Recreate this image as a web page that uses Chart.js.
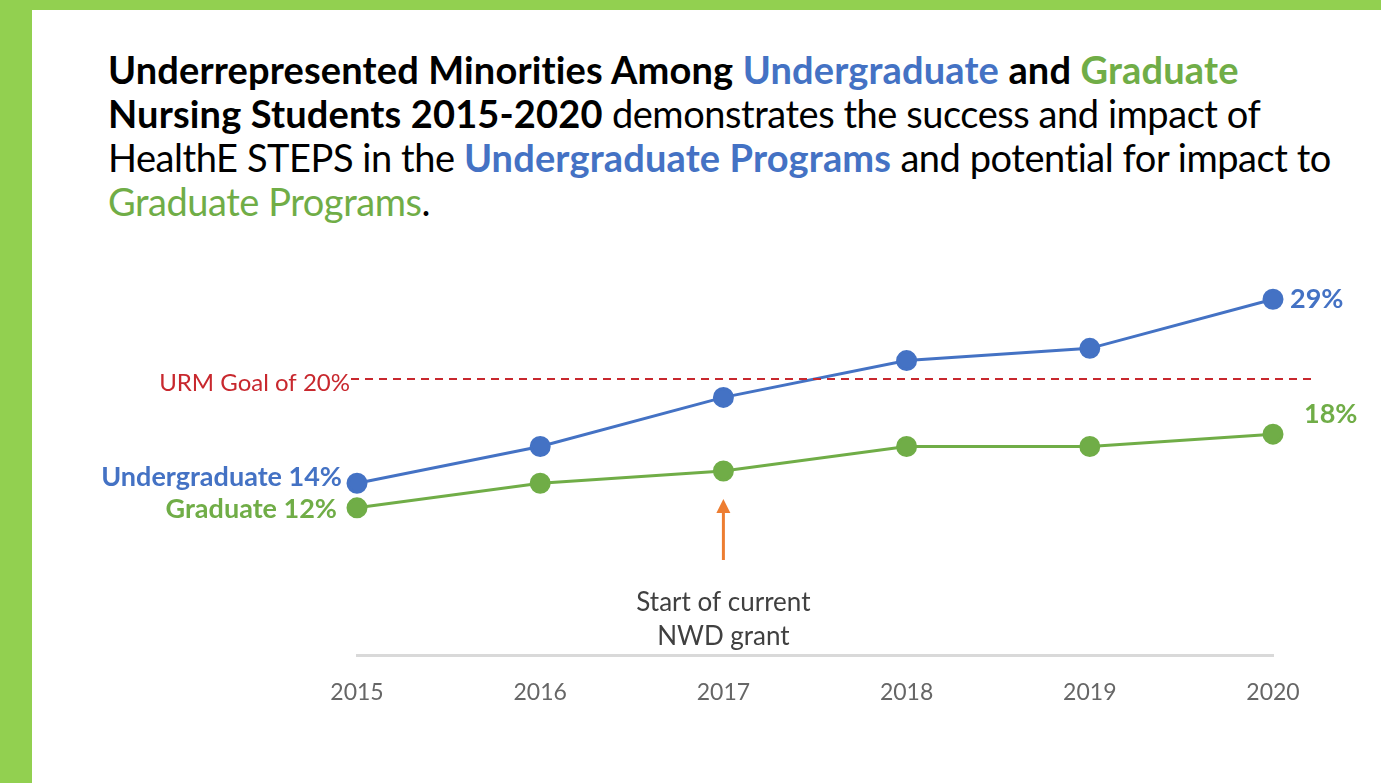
<!DOCTYPE html>
<html>
<head>
<meta charset="utf-8">
<title>URM nursing students 2015-2020</title>
<script src="https://cdn.jsdelivr.net/npm/chart.js@4.4.1/dist/chart.umd.min.js"></script>
<style>
  html, body { margin: 0; padding: 0; }
  body {
    width: 1381px; height: 783px; position: relative; overflow: hidden;
    background: #92D050; font-family: Lato, 'Noto Sans', sans-serif;
  }
  .panel { position: absolute; left: 32px; top: 10px; right: 0; bottom: 0; background: #fff; }
  .title {
    position: absolute; left: 108px; top: 47px; white-space: nowrap;
    font-size: 38px; line-height: 44px; color: #000; letter-spacing: -0.45px;
  }
  .title b { font-weight: 700; letter-spacing: 0.15px; }
  .blue { color: #4472C4; }
  .green { color: #70AD47; }
  #chart { position: absolute; left: 0; top: 0; }
</style>
</head>
<body>
<div class="panel"></div>
<div class="title">
  <b>Underrepresented Minorities Among <span class="blue">Undergraduate</span> and <span class="green">Graduate</span></b><br>
  <b>Nursing Students 2015-2020</b> demonstrates the success and impact of<br>
  HealthE STEPS in the <b class="blue">Undergraduate Programs</b> and potential for impact to<br>
  <span class="green">Graduate Programs</span>.
</div>
<canvas id="chart" width="1381" height="783"></canvas>
<script>
// values (percent of students)
const years = ['2015', '2016', '2017', '2018', '2019', '2020']
const undergraduate = [14, 17, 21, 24, 25, 29]
const graduate = [12, 14, 15, 17, 17, 18]

// the dashed goal line sits a bit above 20 in the drawing; keep its drawn level
const goalLabel = 'URM Goal of 20%'
const goalLevel = 22.5

const grantYear = '2017'
const grantNote = ['Start of current', 'NWD grant']

const BLUE = '#4472C4'
const GREEN = '#70AD47'
const RED = '#C8282E'
const ORANGE = '#ED7D31'
const FONT = "Lato, 'Noto Sans', sans-serif"

// end labels: which point, text, and offset from the point
const endLabels = [
  { ds: 0, i: 0, text: 'Undergraduate ' + undergraduate[0] + '%', align: 'right', dx: -15, dy: -6 },
  { ds: 1, i: 0, text: 'Graduate ' + graduate[0] + '%', align: 'right', dx: -20, dy: 1 },
  { ds: 0, i: years.length - 1, text: undergraduate[years.length - 1] + '%', align: 'left', dx: 17, dy: 0 },
  { ds: 1, i: years.length - 1, text: graduate[years.length - 1] + '%', align: 'left', dx: 31, dy: -20 }
]

const annotations = {
  id: 'annotations',
  afterDatasetsDraw(chart) {
    const ctx = chart.ctx
    const x = chart.scales.x
    const y = chart.scales.y

    // goal line + label
    const gy = y.getPixelForValue(goalLevel)
    const gx0 = x.getPixelForValue(0) - 6
    ctx.save()
    ctx.strokeStyle = RED
    ctx.lineWidth = 2
    ctx.setLineDash([8, 6])
    ctx.beginPath()
    ctx.moveTo(gx0, gy)
    ctx.lineTo(x.right + 40, gy)
    ctx.stroke()
    ctx.setLineDash([])
    ctx.fillStyle = RED
    ctx.font = '24px ' + FONT
    ctx.textAlign = 'right'
    ctx.textBaseline = 'middle'
    ctx.fillText(goalLabel, gx0 - 1, gy + 4)

    // end-of-line value labels
    ctx.font = 'bold 27px ' + FONT
    endLabels.forEach(l => {
      const pt = chart.getDatasetMeta(l.ds).data[l.i]
      ctx.fillStyle = chart.data.datasets[l.ds].borderColor
      ctx.textAlign = l.align
      ctx.fillText(l.text, pt.x + l.dx, pt.y + l.dy)
    })

    // grant arrow and note
    const gi = years.indexOf(grantYear)
    const ax = x.getPixelForValue(gi)
    const gp = chart.getDatasetMeta(1).data[gi]
    const tipY = gp.y + 28
    const baseY = gp.y + 89
    ctx.strokeStyle = ORANGE
    ctx.fillStyle = ORANGE
    ctx.lineWidth = 3
    ctx.beginPath()
    ctx.moveTo(ax, baseY)
    ctx.lineTo(ax, tipY + 10)
    ctx.stroke()
    ctx.beginPath()
    ctx.moveTo(ax, tipY)
    ctx.lineTo(ax - 7, tipY + 14)
    ctx.lineTo(ax + 7, tipY + 14)
    ctx.closePath()
    ctx.fill()

    ctx.fillStyle = '#404040'
    ctx.font = '26px ' + FONT
    ctx.textAlign = 'center'
    ctx.fillText(grantNote[0], ax, baseY + 43)
    ctx.fillText(grantNote[1], ax, baseY + 77)
    ctx.restore()
  }
}

const series = (label, data, color) => ({
  label,
  data,
  borderColor: color,
  backgroundColor: color,
  pointBackgroundColor: color,
  pointBorderColor: color,
  borderWidth: 3,
  pointRadius: 9,
  pointHoverRadius: 9,
  tension: 0,
  clip: false
})

new Chart(document.getElementById('chart'), {
  type: 'line',
  data: {
    labels: years,
    datasets: [
      series('Undergraduate', undergraduate, BLUE),
      series('Graduate', graduate, GREEN)
    ]
  },
  options: {
    responsive: false,
    animation: false,
    events: [],
    layout: { padding: { left: 357, right: 108, top: 287, bottom: 0 } },
    plugins: { legend: { display: false }, tooltip: { enabled: false } },
    scales: {
      x: {
        offset: false,
        grid: { display: false, drawTicks: false },
        border: { display: true, color: '#D9D9D9', width: 3 },
        ticks: { color: '#666666', font: { family: FONT, size: 23 }, padding: 24 },
        afterFit(scale) { scale.height = 128 }
      },
      y: { display: false, min: 0, max: 30 }
    }
  },
  plugins: [annotations]
})
</script>
</body>
</html>
